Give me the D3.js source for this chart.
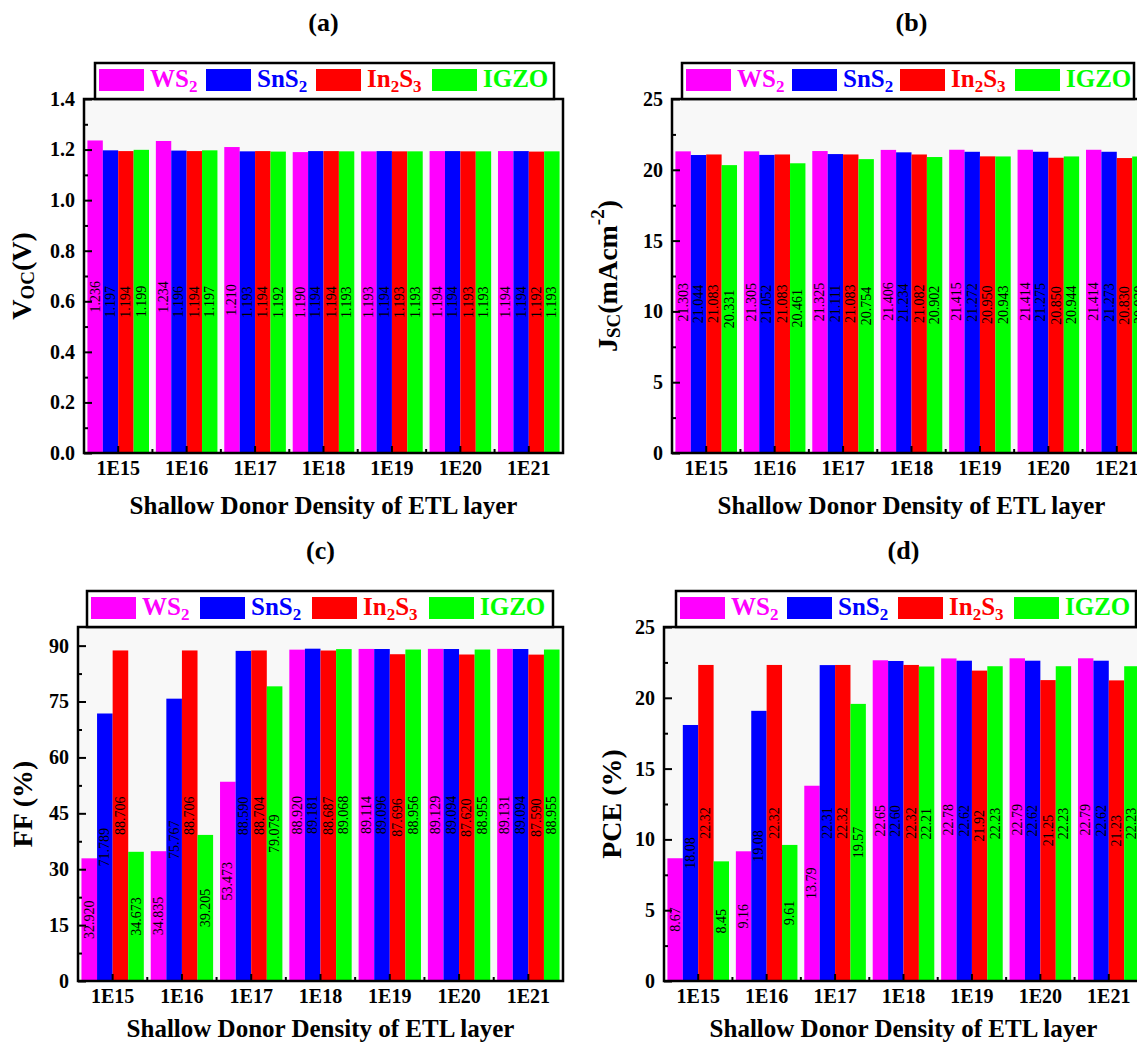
<!DOCTYPE html>
<html>
<head>
<meta charset="utf-8">
<script src="https://cdn.jsdelivr.net/npm/d3@7"></script>
<style>
  body { margin: 0; background: #fff; }
  svg { display: block; }
  text { font-family: "Liberation Serif", "Times New Roman", serif; }
</style>
</head>
<body>
<svg id="fig" width="1137" height="1042"></svg>
<script>
// Shallow donor density of the ETL layer (cm^-3)
const densities = ["1E15", "1E16", "1E17", "1E18", "1E19", "1E20", "1E21"];
const materials = ["WS2", "SnS2", "In2S3", "IGZO"];
const materialColors = ["#ff00ff", "#0000ff", "#ff0000", "#00ff00"];

// Open-circuit voltage (V)
const vocWS2   = [1.236, 1.234, 1.210, 1.190, 1.193, 1.194, 1.194];
const vocSnS2  = [1.197, 1.196, 1.193, 1.194, 1.194, 1.194, 1.194];
const vocIn2S3 = [1.194, 1.194, 1.194, 1.194, 1.193, 1.193, 1.192];
const vocIGZO  = [1.199, 1.197, 1.192, 1.193, 1.193, 1.193, 1.193];

// Short-circuit current density (mA cm^-2)
const jscWS2   = [21.303, 21.305, 21.325, 21.406, 21.415, 21.414, 21.414];
const jscSnS2  = [21.044, 21.052, 21.111, 21.234, 21.272, 21.275, 21.273];
const jscIn2S3 = [21.083, 21.083, 21.083, 21.082, 20.950, 20.850, 20.830];
const jscIGZO  = [20.331, 20.461, 20.754, 20.902, 20.943, 20.944, 20.939];

// Fill factor (%)
const ffWS2   = [32.920, 34.835, 53.473, 88.920, 89.114, 89.129, 89.131];
const ffSnS2  = [71.789, 75.767, 88.590, 89.181, 89.096, 89.094, 89.094];
const ffIn2S3 = [88.706, 88.706, 88.704, 88.687, 87.696, 87.620, 87.590];
const ffIGZO  = [34.673, 39.205, 79.079, 89.068, 88.956, 88.955, 88.955];

// Power conversion efficiency (%)
const pceWS2   = [8.67, 9.16, 13.79, 22.65, 22.78, 22.79, 22.79];
const pceSnS2  = [18.08, 19.08, 22.31, 22.60, 22.62, 22.62, 22.62];
const pceIn2S3 = [22.32, 22.32, 22.32, 22.32, 21.92, 21.25, 21.23];
const pceIGZO  = [8.45, 9.61, 19.57, 22.21, 22.23, 22.23, 22.23];

// Axis tick values
const vocTicks = [0, 0.2, 0.4, 0.6, 0.8, 1.0, 1.2, 1.4];
const jscTicks = [0, 5, 10, 15, 20, 25];
const ffTicks  = [0, 15, 30, 45, 60, 75, 90];
const pceTicks = [0, 5, 10, 15, 20, 25];

// Legend labels split into normal / subscript runs
const legendRuns = [
  [["WS", false], ["2", true]],
  [["SnS", false], ["2", true]],
  [["In", false], ["2", true], ["S", false], ["3", true]],
  [["IGZO", false]]
];

const panels = [
  { tag: "(a)", x0: 84, x1: 563, y0: 99, y1: 453, yMax: 1.4, ticks: vocTicks,
    tickFmt: d3.format(".1f"), decimals: 3,
    series: [vocWS2, vocSnS2, vocIn2S3, vocIGZO],
    yTitle: [["V", false], ["OC", "sub"], ["(V)", false]], yTitleX: 21, titleGap: 52,
    legend: { x: 95, w: 459, slots: [4, 111, 221, 337] } },
  { tag: "(b)", x0: 672, x1: 1151, y0: 99, y1: 453, yMax: 25, ticks: jscTicks,
    tickFmt: d3.format("d"), decimals: 3,
    series: [jscWS2, jscSnS2, jscIn2S3, jscIGZO],
    yTitle: [["J", false], ["SC", "sub"], ["(mAcm", false], ["-2", "sup"], [")", false]], yTitleX: 607, titleGap: 52,
    legend: { x: 682, w: 452, slots: [4, 110, 218, 333] } },
  { tag: "(c)", x0: 78, x1: 563, y0: 627, y1: 981, yMax: 95, ticks: ffTicks,
    tickFmt: d3.format("d"), decimals: 3,
    series: [ffWS2, ffSnS2, ffIn2S3, ffIGZO],
    yTitle: [["FF (%)", false]], yTitleX: 22, titleGap: 47,
    legend: { x: 87, w: 466, slots: [4, 113, 225, 342] } },
  { tag: "(d)", x0: 664, x1: 1143, y0: 627, y1: 981, yMax: 25, ticks: pceTicks,
    tickFmt: d3.format("d"), decimals: 2,
    series: [pceWS2, pceSnS2, pceIn2S3, pceIGZO],
    yTitle: [["PCE (%)", false]], yTitleX: 611, titleGap: 47,
    legend: { x: 676, w: 460, slots: [4, 111, 222, 338] } }
];

const svg = d3.select("#fig");

panels.forEach(p => {
  const g = svg.append("g");
  const cx = (p.x0 + p.x1) / 2;

  const x = d3.scaleBand().domain(densities).range([p.x0, p.x1])
    .paddingInner(0.1).paddingOuter(0.05);
  const xs = d3.scaleBand().domain(materials).range([0, x.bandwidth()]);
  const y = d3.scaleLinear().domain([0, p.yMax]).range([p.y1, p.y0]);

  // panel tag
  g.append("text").attr("x", cx).attr("y", p.y0 - 77)
    .attr("text-anchor", "middle").attr("dominant-baseline", "central")
    .attr("font-size", 26).attr("font-weight", "bold").text(p.tag);

  // plot area
  g.append("rect").attr("x", p.x0).attr("y", p.y0)
    .attr("width", p.x1 - p.x0).attr("height", p.y1 - p.y0)
    .attr("fill", "#f8f8f8");

  // bars
  const rows = densities.map((d, i) => ({ d, vals: p.series.map(s => s[i]) }));
  const grp = g.append("g").selectAll("g").data(rows).join("g")
    .attr("transform", r => `translate(${x(r.d)},0)`);
  grp.selectAll("rect").data(r => r.vals.map((v, k) => ({ v, m: materials[k], k })))
    .join("rect")
    .attr("x", b => xs(b.m)).attr("width", xs.bandwidth())
    .attr("y", b => y(b.v)).attr("height", b => y(0) - y(b.v))
    .attr("fill", b => materialColors[b.k]);

  // value labels, centred in each bar
  grp.selectAll("text").data(r => r.vals.map((v, k) => ({ v, m: materials[k] })))
    .join("text")
    .attr("transform", b => `translate(${xs(b.m) + xs.bandwidth() / 2},${(y(b.v) + y(0)) / 2}) rotate(-90)`)
    .attr("text-anchor", "middle").attr("dominant-baseline", "central")
    .attr("font-size", 14).attr("fill", "#000")
    .text(b => b.v.toFixed(p.decimals));

  // y axis (inward ticks)
  const yAxis = d3.axisLeft(y).tickValues(p.ticks).tickFormat(p.tickFmt)
    .tickSize(-8).tickPadding(9);
  const ya = g.append("g").attr("transform", `translate(${p.x0},0)`).call(yAxis);
  const minors = p.ticks.slice(0, -1).map((t, i) => (t + p.ticks[i + 1]) / 2);
  const yMinor = d3.axisLeft(y).tickValues(minors).tickFormat("").tickSize(-4);
  const ym = g.append("g").attr("transform", `translate(${p.x0},0)`).call(yMinor);

  // x axis: major ticks at group centres, minor ticks between groups
  const xAxis = d3.axisBottom(x).tickSize(-7).tickPadding(8);
  const xa = g.append("g").attr("transform", `translate(0,${p.y1})`).call(xAxis);
  const gapHalf = x.step() * x.paddingInner() / 2;
  g.append("g").selectAll("line").data(densities.slice(1)).join("line")
    .attr("x1", d => x(d) - gapHalf).attr("x2", d => x(d) - gapHalf)
    .attr("y1", p.y1).attr("y2", p.y1 - 4)
    .attr("stroke", "#000").attr("stroke-width", 2);

  [ya, ym, xa].forEach(a => {
    a.select(".domain").remove();
    a.selectAll("line").attr("stroke", "#000").attr("stroke-width", 2);
    a.selectAll("text").attr("font-size", 20).attr("font-weight", "bold")
      .attr("fill", "#000").attr("font-family", "'Liberation Serif', 'Times New Roman', serif");
  });

  // frame
  g.append("rect").attr("x", p.x0).attr("y", p.y0)
    .attr("width", p.x1 - p.x0).attr("height", p.y1 - p.y0)
    .attr("fill", "none").attr("stroke", "#000").attr("stroke-width", 2.5);

  // x title
  g.append("text").attr("x", cx).attr("y", p.y1 + p.titleGap)
    .attr("text-anchor", "middle").attr("dominant-baseline", "central")
    .attr("font-size", 25).attr("font-weight", "bold")
    .text("Shallow Donor Density of ETL layer");

  // y title
  const yt = g.append("text")
    .attr("transform", `translate(${p.yTitleX},${(p.y0 + p.y1) / 2}) rotate(-90)`)
    .attr("text-anchor", "middle").attr("dominant-baseline", "central")
    .attr("font-size", 28).attr("font-weight", "bold");
  let shift = 0;
  p.yTitle.forEach(([t, kind]) => {
    const target = kind === "sub" ? 6 : kind === "sup" ? -10 : 0;
    yt.append("tspan").attr("dy", target - shift)
      .attr("font-size", kind ? 19 : 28).text(t);
    shift = target;
  });

  // legend
  const ly = p.y0 - 36, lh = 36;
  const lg = g.append("g");
  lg.append("rect").attr("x", p.legend.x).attr("y", ly)
    .attr("width", p.legend.w).attr("height", lh)
    .attr("fill", "#fff").attr("stroke", "#000").attr("stroke-width", 2.5);
  legendRuns.forEach((runs, i) => {
    const sx = p.legend.x + p.legend.slots[i];
    lg.append("rect").attr("x", sx).attr("y", ly + 6).attr("width", 45).attr("height", 22)
      .attr("fill", materialColors[i]);
    const t = lg.append("text").attr("x", sx + 51).attr("y", ly + 24)
      .attr("font-size", 25).attr("font-weight", "bold").attr("fill", materialColors[i]);
    let s = 0;
    runs.forEach(([txt, sub]) => {
      const target = sub ? 5 : 0;
      t.append("tspan").attr("dy", target - s).attr("font-size", sub ? 17 : 25).text(txt);
      s = target;
    });
  });
});
</script>
</body>
</html>
